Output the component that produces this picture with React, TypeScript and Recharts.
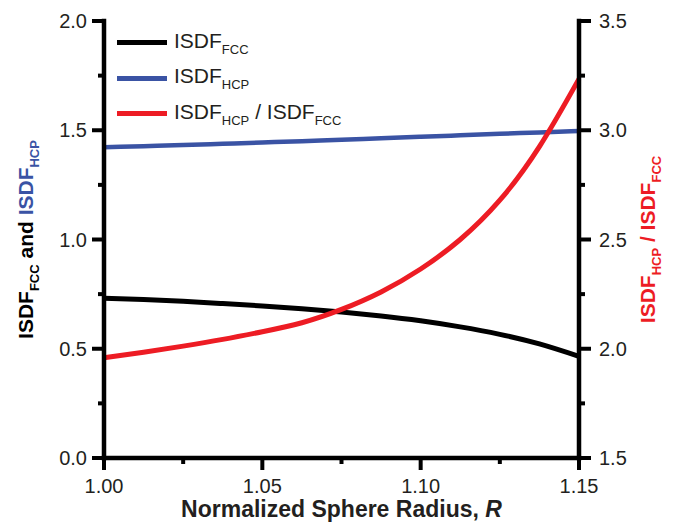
import { Legend, Line, LineChart, XAxis, YAxis } from "recharts";

const radius = [1.0, 1.0125, 1.025, 1.0375, 1.05, 1.0625, 1.075, 1.0875, 1.1, 1.1125, 1.125, 1.1375, 1.15];
const isdfFcc = [0.731, 0.725, 0.717, 0.707, 0.696, 0.683, 0.668, 0.65, 0.628, 0.6, 0.566, 0.522, 0.465];
const isdfHcp = [1.422, 1.427, 1.432, 1.438, 1.444, 1.45, 1.457, 1.463, 1.47, 1.477, 1.484, 1.49, 1.497];
const isdfRatio = [1.959, 1.984, 2.012, 2.043, 2.078, 2.119, 2.18, 2.26, 2.365, 2.5, 2.68, 2.925, 3.235];

const xTicks = [1.0, 1.025, 1.05, 1.075, 1.1, 1.125, 1.15];
const leftTicks = [0, 0.25, 0.5, 0.75, 1.0, 1.25, 1.5, 1.75, 2.0];
const rightTicks = [1.5, 1.75, 2.0, 2.25, 2.5, 2.75, 3.0, 3.25, 3.5];

const seriesLabels: Record<string, [string, string][]> = {
  fcc: [["ISDF", "FCC"]],
  hcp: [["ISDF", "HCP"]],
  ratio: [["ISDF", "HCP"], [" / ISDF", "FCC"]],
};

const data = radius.map((r, i) => ({ r, fcc: isdfFcc[i], hcp: isdfHcp[i], ratio: isdfRatio[i] }));

const FONT = '"Liberation Sans", Arial, Helvetica, sans-serif';
const INK = "#231f20";
const BLACK = "#000000";
const BLUE = "#3a53a4";
const RED = "#ed1c24";
const MAJOR = 12;
const MINOR = 6;
const TW = 4;

const axisLine = { stroke: "#000", strokeWidth: 4.5, strokeLinecap: "square" as const };

function LeftTick({ x, y, payload, index }: any) {
  const major = index % 2 === 0;
  return (
    <g>
      <line x1={x} x2={x - (major ? MAJOR : MINOR)} y1={y} y2={y} stroke="#000" strokeWidth={TW} />
      {major && (
        <text x={x - 17} y={y} dy="0.36em" textAnchor="end" fontSize={20} fontFamily={FONT} fill={INK}>
          {Number(payload.value).toFixed(1)}
        </text>
      )}
    </g>
  );
}

function RightTick({ x, y, payload, index }: any) {
  const major = index % 2 === 0;
  return (
    <g>
      <line x1={x} x2={x + (major ? MAJOR : MINOR)} y1={y} y2={y} stroke="#000" strokeWidth={TW} />
      {major && (
        <text x={x + 20} y={y} dy="0.36em" textAnchor="start" fontSize={20} fontFamily={FONT} fill={INK}>
          {Number(payload.value).toFixed(1)}
        </text>
      )}
    </g>
  );
}

function BottomTick({ x, y, payload, index }: any) {
  const major = index % 2 === 0;
  return (
    <g>
      <line x1={x} x2={x} y1={y} y2={y + (major ? MAJOR : MINOR)} stroke="#000" strokeWidth={TW} />
      {major && (
        <text x={x} y={y + 35} textAnchor="middle" fontSize={20} fontFamily={FONT} fill={INK}>
          {Number(payload.value).toFixed(2)}
        </text>
      )}
    </g>
  );
}

function TopTick({ x, y, index }: any) {
  const major = index % 2 === 0;
  return <line x1={x} x2={x} y1={y} y2={y - (major ? MAJOR : MINOR)} stroke="#000" strokeWidth={TW} />;
}

function Sub({ text, color }: { text: string; color: string }) {
  return (
    <tspan dy={6} fontSize={13} fill={color}>
      {text}
    </tspan>
  );
}

function LeftTitle({ viewBox }: any) {
  const x = viewBox.x + 33;
  const y = viewBox.y + viewBox.height / 2;
  return (
    <text x={x} y={y} transform={`rotate(-90, ${x}, ${y})`} textAnchor="middle" fontFamily={FONT}
      fontWeight="bold" fontSize={21} style={{ whiteSpace: "pre" }}>
      <tspan fill={BLACK}>ISDF</tspan>
      <Sub text="FCC" color={BLACK} />
      <tspan dy={-6} fill={BLACK}> and </tspan>
      <tspan fill={BLUE}>ISDF</tspan>
      <Sub text="HCP" color={BLUE} />
    </text>
  );
}

function RightTitle({ viewBox }: any) {
  const x = viewBox.x + 76;
  const y = viewBox.y + viewBox.height / 2;
  return (
    <text x={x} y={y} transform={`rotate(-90, ${x}, ${y})`} textAnchor="middle" fontFamily={FONT}
      fontWeight="bold" fontSize={21} fill={RED} style={{ whiteSpace: "pre" }}>
      <tspan>ISDF</tspan>
      <Sub text="HCP" color={RED} />
      <tspan dy={-6}> / ISDF</tspan>
      <Sub text="FCC" color={RED} />
    </text>
  );
}

function BottomTitle({ viewBox }: any) {
  const x = viewBox.x + viewBox.width / 2;
  return (
    <text x={x} y={viewBox.y + 59} textAnchor="middle" fontFamily={FONT} fontWeight="bold" fontSize={23} fill={INK}
      style={{ whiteSpace: "pre" }}>
      <tspan>Normalized Sphere Radius, </tspan>
      <tspan fontStyle="italic">R</tspan>
    </text>
  );
}

function LegendBox({ payload }: any) {
  return (
    <div style={{ fontFamily: FONT, fontSize: 21, color: INK }}>
      {(payload || []).map((entry: any) => (
        <div key={entry.dataKey} style={{ display: "flex", alignItems: "center", height: 35.5 }}>
          <div style={{ width: 50, height: 5, background: entry.color }} />
          <span style={{ marginLeft: 7, whiteSpace: "pre", lineHeight: "21px", position: "relative", top: -1 }}>
            {seriesLabels[entry.dataKey].map(([main, sub], i) => (
              <span key={i}>
                {main}
                <span style={{ fontSize: 13, position: "relative", top: 6 }}>{sub}</span>
              </span>
            ))}
          </span>
        </div>
      ))}
    </div>
  );
}

export default function App() {
  return (
    <div style={{ width: 680, height: 523, overflow: "hidden" }}>
      <style>{"html,body{margin:0;padding:0;overflow:hidden;background:#fff}"}</style>
      <LineChart width={680} height={523} data={data} margin={{ top: 21, right: 0, bottom: 0, left: 0 }}>
        <XAxis dataKey="r" type="number" domain={[1, 1.15]} ticks={xTicks} interval={0} height={65}
          tickSize={0} tickMargin={0} tick={<BottomTick />} axisLine={axisLine} label={BottomTitle} />
        <XAxis xAxisId="top" orientation="top" dataKey="r" type="number" domain={[1, 1.15]} ticks={xTicks}
          interval={0} height={0} tickSize={0} tickMargin={0} tick={<TopTick />} axisLine={axisLine} />
        <YAxis yAxisId="left" type="number" domain={[0, 2]} ticks={leftTicks} interval={0} width={104}
          tickSize={0} tickMargin={0} tick={<LeftTick />} axisLine={axisLine} label={LeftTitle} />
        <YAxis yAxisId="right" orientation="right" type="number" domain={[1.5, 3.5]} ticks={rightTicks}
          interval={0} width={101} tickSize={0} tickMargin={0} tick={<RightTick />} axisLine={axisLine}
          label={RightTitle} />
        <Legend verticalAlign="middle" layout="horizontal" align="center" content={LegendBox}
          wrapperStyle={{ left: 117, top: 25, width: "auto" }} />
        <Line yAxisId="left" dataKey="fcc" stroke={BLACK} strokeWidth={5} dot={false} type="natural"
          isAnimationActive={false} />
        <Line yAxisId="left" xAxisId="top" dataKey="hcp" stroke={BLUE} strokeWidth={4.5} dot={false}
          type="natural" isAnimationActive={false} />
        <Line yAxisId="right" dataKey="ratio" stroke={RED} strokeWidth={5} dot={false} type="natural"
          isAnimationActive={false} />
      </LineChart>
    </div>
  );
}
